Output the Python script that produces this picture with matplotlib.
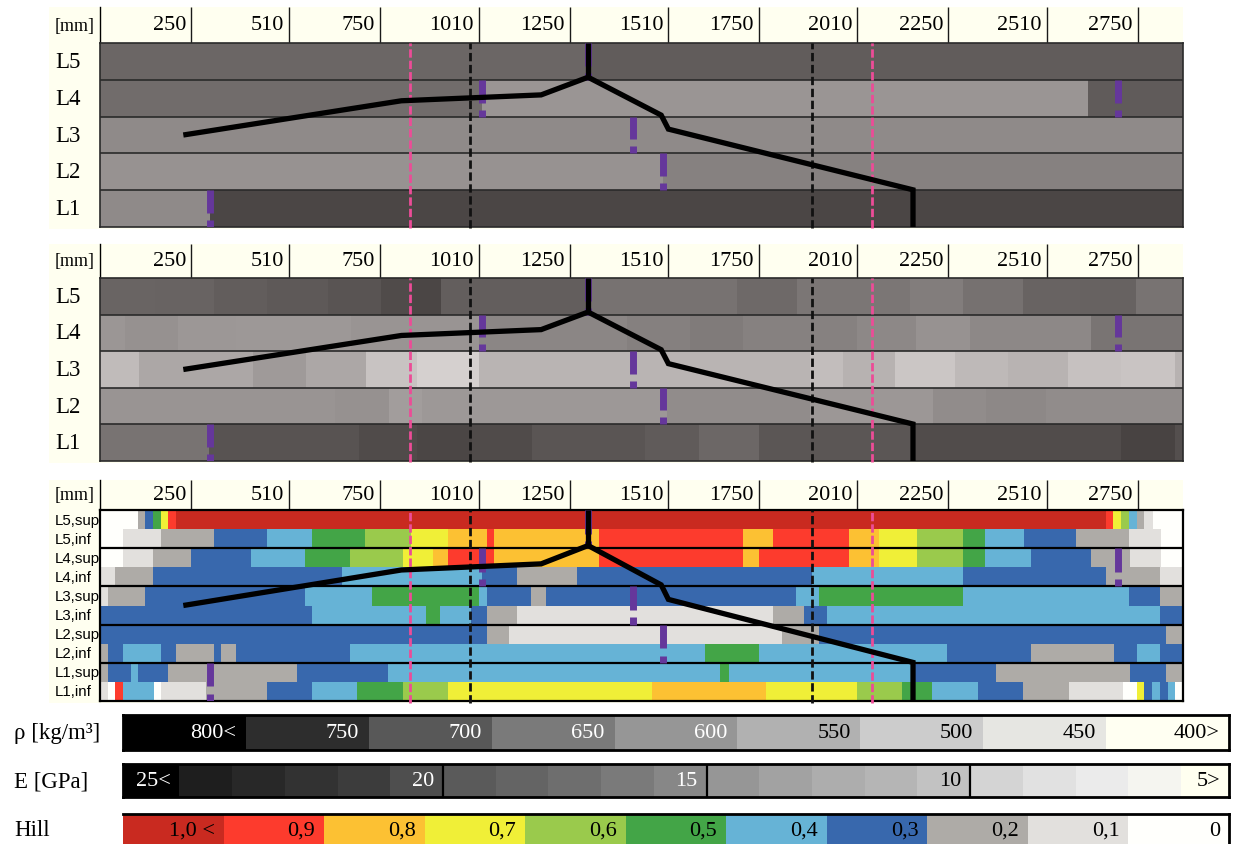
import numpy as np
import matplotlib
matplotlib.use("Agg")
import matplotlib.pyplot as plt
from matplotlib.patches import Rectangle
import matplotlib.transforms as mtransforms

plt.rcParams['font.family'] = ['Liberation Serif', 'DejaVu Serif']
plt.rcParams['lines.scale_dashes'] = False

# ---------------------------------------------------------------- data
X_MIN, X_MAX = 10, 2870                       # position along the beam [mm]
TICKS = [250, 510, 750, 1010, 1250, 1510, 1750, 2010, 2250, 2510, 2750]
LAYERS = ['L1', 'L2', 'L3', 'L4', 'L5']
HILL_ROWS = ['L1,inf', 'L1,sup', 'L2,inf', 'L2,sup', 'L3,inf',
             'L3,sup', 'L4,inf', 'L4,sup', 'L5,inf', 'L5,sup']

# density per layer: (segment starts [mm], density [kg/m3])
rho_L1 = ([10, 301], [620, 720])
rho_L2 = ([10, 1498], [605, 636])
rho_L3 = ([10], [620])
rho_L4 = ([10, 1020, 2618], [669, 600, 694])
rho_L5 = ([10, 1300], [678, 693])

# modulus of elasticity per layer: (segment starts [mm], E [GPa])
e_L1 = ([10, 299, 694, 848, 993, 1151, 1450, 1591, 1749, 2166, 2707, 2848],
        [16.5, 19.5, 20.1, 20.4, 20.1, 19.3, 18.8, 17.6, 19.25, 20.05, 20.55, 19.8])
e_L2 = ([10, 630, 773, 861, 1507, 1885, 2210, 2351, 2509],
        [14.1, 14.3, 13.3, 13.75, 14.6, 13.85, 14.6, 14.9, 14.6])
e_L3 = ([10, 114, 413, 554, 712, 848, 1011, 1885, 1973, 2109, 2267, 2408, 2566, 2707, 2848],
        [10.5, 12.5, 13.6, 12.45, 9.9, 9.15, 11.0, 10.3, 11.25, 9.75, 10.6, 11.1, 10.0, 9.85, 11.2])
e_L4 = ([10, 75, 215, 369, 672, 1011, 1401, 1569, 1709, 2008, 2166, 2307, 2628],
        [13.9, 14.3, 13.85, 13.75, 14.1, 15.0, 15.5, 15.85, 15.4, 14.9, 14.2, 14.9, 16.4])
e_L5 = ([10, 156, 312, 452, 612, 751, 830, 911, 1300, 1692, 1850, 2149, 2289, 2448, 2597, 2746],
        [17.9, 18.0, 18.6, 19.0, 19.4, 20.1, 20.4, 18.5, 16.6, 17.4, 16.25, 15.7, 16.7, 18.0, 18.1, 16.5])

# Hill coefficient per sub-layer: (segment starts [mm], Hill class)
hill_L1_inf = ([10, 30, 50, 71, 152, 171, 290, 450, 571, 690, 810, 930, 1469, 1769, 2010, 2128,
                2208, 2329, 2448, 2569, 2711, 2748, 2768, 2788, 2808, 2830, 2850],
               [0.1, 0.0, 0.9, 0.4, 0.0, 0.1, 0.2, 0.3, 0.4, 0.5, 0.6, 0.7, 0.8, 0.7, 0.6, 0.5,
                0.4, 0.3, 0.2, 0.1, 0.0, 0.7, 0.3, 0.4, 0.3, 0.4, 0.0])
hill_L1_sup = ([10, 30, 91, 111, 190, 530, 770, 1648, 1670, 2162, 2376, 2729, 2826],
               [0.2, 0.3, 0.4, 0.3, 0.2, 0.3, 0.4, 0.5, 0.4, 0.3, 0.2, 0.3, 0.2])
hill_L2_inf = ([10, 30, 71, 170, 210, 310, 329, 370, 670, 1608, 1749, 2248, 2468, 2688, 2748, 2808],
               [0.2, 0.3, 0.4, 0.3, 0.2, 0.3, 0.2, 0.3, 0.4, 0.5, 0.4, 0.3, 0.2, 0.3, 0.4, 0.3])
hill_L2_sup = ([10, 1031, 1089, 1810, 1910, 2825],
               [0.3, 0.2, 0.1, 0.2, 0.3, 0.2])
hill_L3_inf = ([10, 571, 870, 909, 991, 1031, 1110, 1788, 1870, 1929, 2808],
               [0.3, 0.4, 0.5, 0.4, 0.3, 0.2, 0.1, 0.2, 0.3, 0.4, 0.3])
hill_L3_sup = ([10, 30, 130, 551, 729, 1010, 1031, 1149, 1189, 1848, 1910, 2289, 2727, 2808],
               [0.1, 0.2, 0.3, 0.4, 0.5, 0.4, 0.3, 0.2, 0.3, 0.4, 0.5, 0.4, 0.3, 0.2])
hill_L4_inf = ([10, 50, 150, 650, 1020, 1110, 1270, 1890, 2289, 2667, 2808],
               [0.1, 0.2, 0.3, 0.4, 0.3, 0.2, 0.3, 0.4, 0.3, 0.2, 0.1])
hill_L4_sup = ([10, 71, 150, 250, 410, 551, 670, 810, 890, 930, 1050, 1329, 1709, 1749, 1989, 2068,
                2168, 2289, 2348, 2468, 2628, 2729, 2812],
               [0.0, 0.1, 0.2, 0.3, 0.4, 0.5, 0.6, 0.7, 0.8, 0.9, 0.8, 0.9, 0.8, 0.9, 0.8, 0.7,
                0.6, 0.5, 0.4, 0.3, 0.2, 0.1, 0.0])
hill_L5_inf = ([10, 71, 170, 310, 450, 571, 710, 830, 930, 1031, 1050, 1329, 1709, 1788, 1989, 2068,
                2168, 2289, 2348, 2449, 2588, 2727, 2812],
               [0.0, 0.1, 0.2, 0.3, 0.4, 0.5, 0.6, 0.7, 0.8, 0.9, 0.8, 0.9, 0.8, 0.9, 0.8, 0.7,
                0.6, 0.5, 0.4, 0.3, 0.2, 0.1, 0.0])
hill_L5_sup = ([10, 111, 130, 150, 170, 190, 210, 2667, 2686, 2707, 2727, 2748, 2768, 2790],
               [0.0, 0.2, 0.3, 0.5, 0.7, 0.9, 1.0, 0.9, 0.7, 0.6, 0.4, 0.2, 0.1, 0.0])

# profile line (position [mm], height in layers from bottom)
profile_x = [230, 806, 1175, 1299, 1492, 1511, 2157, 2157]
profile_y = [2.5, 3.43, 3.59, 4.07, 3.04, 2.66, 1.01, 0.0]
peak_x, peak_top = 1299, 5.0

pink_lines = [829, 2049]
black_lines = [988, 1889]
marker_x = [301, 1497, 1417, 1018, 2698, 1299]
marker_layer = [1, 2, 3, 4, 4, 5]

# legends
RHO_LEVELS = [800, 750, 700, 650, 600, 550, 500, 450, 400]
RHO_LABELS = ['800<', '750', '700', '650', '600', '550', '500', '450', '400>']
E_LEVELS = list(range(25, 4, -1))
E_LABELED = {25: '25<', 20: '20', 15: '15', 10: '10', 5: '5>'}
HILL_LEVELS = [1.0, 0.9, 0.8, 0.7, 0.6, 0.5, 0.4, 0.3, 0.2, 0.1, 0.0]
HILL_LABELS = ['1,0 <', '0,9', '0,8', '0,7', '0,6', '0,5', '0,4', '0,3', '0,2', '0,1', '0']

# ---------------------------------------------------------------- styles
RHO_GRAY = [0, 45, 88, 122, 150, 177, 204, 230, 255]
RHO_COLORS = ['#000000', '#2d2d2d', '#585858', '#7a7a7a', '#969696',
              '#b1b1b1', '#cccccc', '#e6e6e2', '#fffff2']
RHO_TEXT = ['white'] * 5 + ['black'] * 4
E_GRAY = [0, 30, 40, 50, 60, 78, 90, 100, 110, 122, 135, 150, 162, 173, 181,
          194, 212, 225, 235, 245, 255]
E_COLORS = ['#%02x%02x%02x' % (g, g, g) for g in E_GRAY[:-2]] + ['#f5f5f0', '#fffff0']
HILL_COLORS = ['#c92a20', '#fd3b2d', '#fcc133', '#f0ef37', '#9aca4c', '#43a547',
               '#66b3d6', '#3868ad', '#aeaba7', '#e2e0dd', '#fffffc']
CREAM = '#fffff0'
PINK = '#ec4c97'
PURPLE = '#65379b'

W, H = 1234, 845
fig = plt.figure(figsize=(W / 100, H / 100), dpi=100)


def add_px_axes(x0, y0, x1, y1):
    return fig.add_axes([x0 / W, 1 - y1 / H, (x1 - x0) / W, (y1 - y0) / H])


bg = add_px_axes(0, 0, W, H)
bg.set_xlim(0, W)
bg.set_ylim(H, 0)
bg.axis('off')
for (y0, y1) in [(8, 230), (245, 464), (481, 704)]:
    bg.add_patch(Rectangle((49, y0), 1183 - 49, y1 - y0, facecolor=CREAM, edgecolor='none'))

LEFT_PX, RIGHT_PX = 100, 1183
LABEL_FRAC = (55 - LEFT_PX) / (RIGHT_PX - LEFT_PX)


def gray_color(values, levels, grays):
    lv = np.asarray(levels, float)
    gr = np.asarray(grays, float)
    order = np.argsort(lv)
    L = np.interp(values, lv[order], gr[order])
    return [(min(255, g + 4) / 255, max(0, g - 1) / 255, max(0, g - 2) / 255) for g in L]


def hill_color(values):
    return [HILL_COLORS[int(round((1.0 - v) * 10))] for v in values]


def draw_header(y0, y1):
    ax = add_px_axes(LEFT_PX, y0, RIGHT_PX, y1)
    ax.set_facecolor(CREAM)
    ax.set_xlim(X_MIN, X_MAX)
    ax.set_ylim(0, 1)
    for s in ['top', 'right', 'bottom']:
        ax.spines[s].set_visible(False)
    ax.spines['left'].set_linewidth(1.0)
    ax.set_xticks([])
    ax.set_yticks([])
    ax.vlines(TICKS, 0, 1, color='#1a1a1a', lw=1.0)
    for t in TICKS:
        ax.annotate(str(t), (t, 0.5), xytext=(-3.5, 0), textcoords='offset points',
                    ha='right', va='center', fontsize=16)
    ax.text(LABEL_FRAC, 0.5, '[mm]', transform=ax.transAxes, ha='left', va='center', fontsize=13)


def draw_data(y0, y1, rows, labels, color_fn, label_kw, sep_lw, sep_color):
    ax = add_px_axes(LEFT_PX, y0, RIGHT_PX, y1)
    ax.set_xlim(X_MIN, X_MAX)
    ax.set_ylim(0, 5)
    ax.set_xticks([])
    ax.set_yticks([])
    n = len(rows)
    h = 5 / n
    for i, (starts, vals) in enumerate(rows):
        ends = list(starts[1:]) + [X_MAX]
        ax.broken_barh([(s, e - s) for s, e in zip(starts, ends)], (i * h, h),
                       facecolors=color_fn(vals), edgecolor='none', linewidth=0,
                       antialiased=False)
    ax.hlines(np.arange(1, 5), X_MIN, X_MAX, color=sep_color, lw=sep_lw, zorder=3)
    for s in ax.spines.values():
        s.set_color(sep_color)
        s.set_linewidth(sep_lw)
    # markers
    for mx, ml in zip(marker_x, marker_layer):
        b = ml - 1
        ax.plot([mx, mx], [b + 1, b + 0.38], color=PURPLE, lw=5.0, solid_capstyle='butt', zorder=4)
        ax.plot([mx, mx], [b + 0.19, b], color=PURPLE, lw=5.0, solid_capstyle='butt', zorder=4)
    # reference lines
    for x in pink_lines:
        ax.plot([x, x], [-0.04, 5], color=PINK, lw=2.0, linestyle=(0, (6, 2.2)), clip_on=False, zorder=5)
    for x in black_lines:
        ax.plot([x, x], [-0.04, 5], color='#111111', lw=2.0, linestyle=(0, (6, 2.6)), clip_on=False, zorder=5)
    # profile
    ax.plot(profile_x, profile_y, color='black', lw=3.8, solid_joinstyle='miter',
            solid_capstyle='butt', zorder=6)
    ax.plot([peak_x, peak_x], [profile_y[3], peak_top], color='black', lw=3.8,
            solid_capstyle='butt', zorder=6)
    tr = mtransforms.blended_transform_factory(ax.transAxes, ax.transData)
    for i, lab in enumerate(labels):
        ax.text(LABEL_FRAC, (i + 0.5) * h, lab, transform=tr, ha='left', va='center', **label_kw)
    return ax


# ---------------------------------------------------------------- panels
draw_header(8, 44)
draw_data(44, 228, [rho_L1, rho_L2, rho_L3, rho_L4, rho_L5], LAYERS,
          lambda v: gray_color(v, RHO_LEVELS, RHO_GRAY), dict(fontsize=16.5), 1.2, '#2a2a2a')

draw_header(245, 279)
draw_data(279, 462, [e_L1, e_L2, e_L3, e_L4, e_L5], LAYERS,
          lambda v: gray_color(v, E_LEVELS, E_GRAY), dict(fontsize=16.5), 1.2, '#2a2a2a')

draw_header(481, 511)
draw_data(511, 702, [hill_L1_inf, hill_L1_sup, hill_L2_inf, hill_L2_sup, hill_L3_inf,
                     hill_L3_sup, hill_L4_inf, hill_L4_sup, hill_L5_inf, hill_L5_sup],
          HILL_ROWS, hill_color, dict(fontsize=10.8, family='Liberation Sans'), 1.6, '#000000')

# ---------------------------------------------------------------- legends
LEG_X0, LEG_X1 = 123, 1229


def frame(ax, lw=2.0):
    ax.set_xticks([])
    ax.set_yticks([])
    for s in ax.spines.values():
        s.set_color('black')
        s.set_linewidth(lw)


# density
ax = add_px_axes(LEG_X0, 716, LEG_X1, 751)
ax.set_xlim(825, 375)
ax.set_ylim(0, 1)
ax.broken_barh([(v - 25, 50) for v in RHO_LEVELS], (0, 1), facecolors=RHO_COLORS,
               edgecolor='none', linewidth=0, antialiased=False)
for v, lab, c in zip(RHO_LEVELS, RHO_LABELS, RHO_TEXT):
    ax.annotate(lab, (v - 25, 0.5), xytext=(-7, 0), textcoords='offset points',
                ha='right', va='center', fontsize=16, color=c)
frame(ax)

# modulus
ax = add_px_axes(LEG_X0, 765, LEG_X1, 798)
E_LEFT, E_RIGHT = 25.57, 4.59
ax.set_xlim(E_LEFT, E_RIGHT)
ax.set_ylim(0, 1)
spans = []
for v in E_LEVELS:
    lo, hi = v - 0.5, v + 0.5
    if v == E_LEVELS[0]:
        hi = v + 1.5
    if v == E_LEVELS[-1]:
        lo = v - 1.5
    spans.append((lo, hi - lo))
ax.broken_barh(spans, (0, 1), facecolors=E_COLORS, edgecolor='none', linewidth=0, antialiased=False)
ax.vlines([v - 0.5 for v in (20, 15, 10)], 0, 1, color='black', lw=1.6)
for v, lab in E_LABELED.items():
    xr = max(v - 0.5, E_RIGHT)
    col = 'white' if v >= 15 else 'black'
    ax.annotate(lab, (xr, 0.5), xytext=(-6.5, 0), textcoords='offset points',
                ha='right', va='center', fontsize=16, color=col)
frame(ax)

# Hill
ax = add_px_axes(LEG_X0, 815, LEG_X1, 848)
ax.set_xlim(1.05, -0.05)
ax.set_ylim(0, 1)
ax.broken_barh([(v - 0.05, 0.1) for v in HILL_LEVELS], (0, 1), facecolors=HILL_COLORS,
               edgecolor='none', linewidth=0, antialiased=False)
for v, lab in zip(HILL_LEVELS, HILL_LABELS):
    ax.annotate(lab, (v - 0.05, 0.5), xytext=(-6.5, 0), textcoords='offset points',
                ha='right', va='center', fontsize=16, color='black')
frame(ax)
ax.spines['left'].set_visible(False)

bg.text(14, 734, 'ρ [kg/m³]', ha='left', va='center', fontsize=16.5)
bg.text(14, 782, 'E [GPa]', ha='left', va='center', fontsize=16.5)
bg.text(14, 831, 'Hill', ha='left', va='center', fontsize=16.5)

fig.savefig('out.png', dpi=100)
